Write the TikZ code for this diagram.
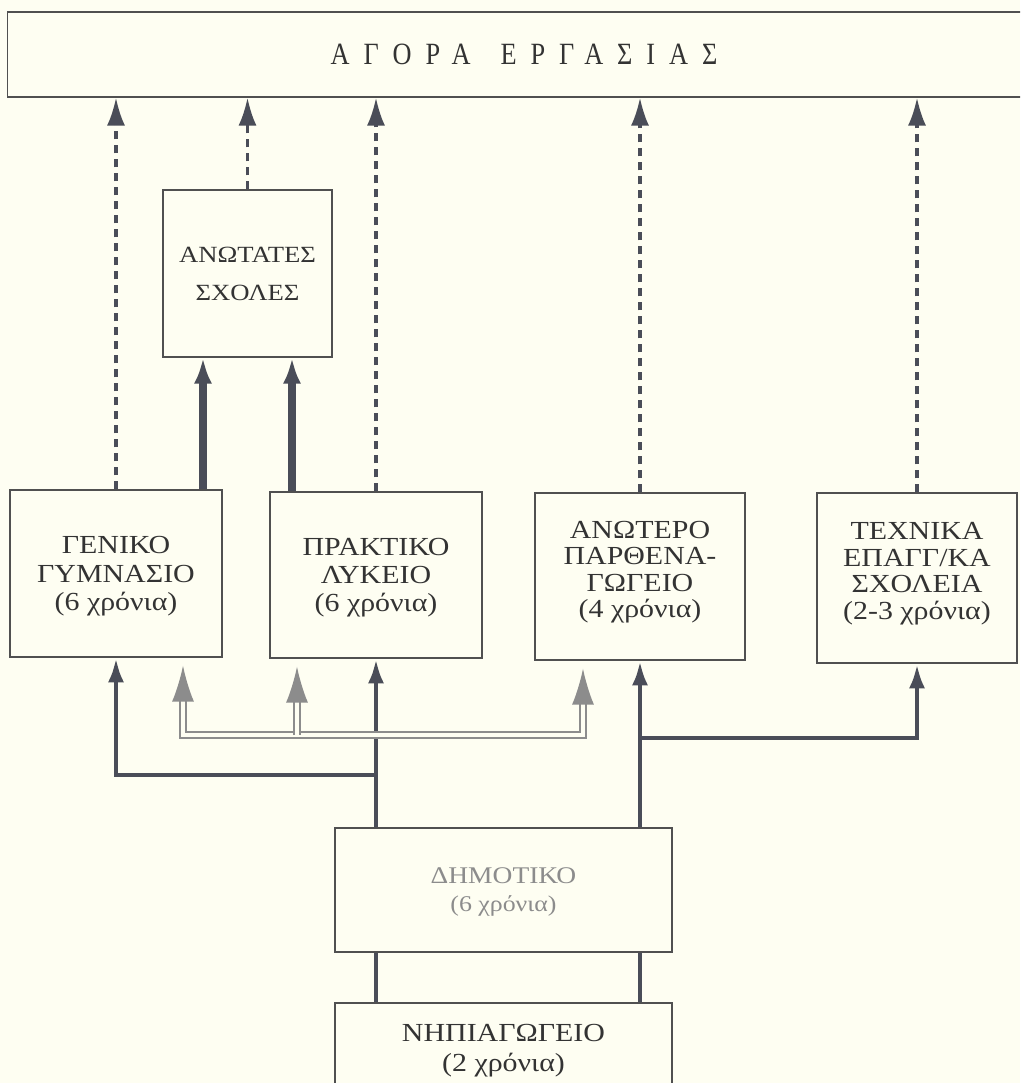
\documentclass[tikz,border=0pt]{standalone}
\usepackage{fontspec}
\setmainfont{Liberation Serif}[FakeStretch=1.15]
\newfontfamily\agorafont{Liberation Serif}[FakeStretch=0.85,LetterSpace=45]
\usetikzlibrary{arrows.meta,calc}
\definecolor{paper}{RGB}{254,254,242}
\definecolor{ink}{RGB}{74,77,88}
\definecolor{boxline}{RGB}{80,80,80}
\definecolor{shade}{RGB}{140,140,140}

\begin{document}
\begin{tikzpicture}[x=0.025cm,y=-0.025cm,
	box/.style={draw=boxline,line width=0.8pt,rectangle,align=center,inner sep=0pt,text depth=0pt,
		text=black!80,font=\fontsize{18.5}{18.8}\selectfont},
	dasharrow/.style={draw=ink,line width=2.2pt,dash pattern=on 0.22cm off 0.13cm,
		-{Latex[length=0.7cm,width=0.45cm]}},
	thickarrow/.style={draw=ink,line width=5pt,-{Latex[length=0.65cm,width=0.45cm]}},
	treearrow/.style={draw=ink,line width=3.5pt,-{Latex[length=0.62cm,width=0.4cm]}},
	link/.style={draw=ink,line width=2.2pt},
	hollowarrow/.style={draw=shade,line width=1.2pt,double=paper,double distance=3.4pt,
		shorten >=0.2cm,-{Latex[length=0.9cm,width=0.55cm]}}]
	
	\useasboundingbox (0,0) rectangle (1020,1083);
	\clip (0,0) rectangle (1020,1083);
	\fill[paper] (0,0) rectangle (1020,1083);
	
	% agora
	\node[box,minimum width=25.8cm,minimum height=2.125cm] (agora) at (524,54.5)
		{\agorafont\fontsize{22}{22}\selectfont ΑΓΟΡΑ\hspace{0.75cm}ΕΡΓΑΣΙΑΣ};
	
	% schools
	\node[box,minimum width=4.225cm,minimum height=4.175cm,font=\fontsize{16.5}{27}\selectfont] (anotates) at (247.5,273.5)
		{ΑΝΩΤΑΤΕΣ\\ΣΧΟΛΕΣ};
	\node[box,minimum width=5.3cm,minimum height=4.175cm,font=\fontsize{18.5}{20}\selectfont] (geniko) at (116,573.5)
		{ΓΕΝΙΚΟ\\ΓΥΜΝΑΣΙΟ\\(6 χρόνια)};
	\node[box,minimum width=5.3cm,minimum height=4.15cm,font=\fontsize{18.5}{20}\selectfont] (praktiko) at (376,575)
		{ΠΡΑΚΤΙΚΟ\\ΛΥΚΕΙΟ\\(6 χρόνια)};
	\node[box,minimum width=5.25cm,minimum height=4.175cm,text depth=0.35cm] (anotero) at (640,576.5)
		{ΑΝΩΤΕΡΟ\\ΠΑΡΘΕΝΑ-\\ΓΩΓΕΙΟ\\(4 χρόνια)};
	\node[box,minimum width=5cm,minimum height=4.25cm,text depth=0.35cm] (technika) at (917,578)
		{ΤΕΧΝΙΚΑ\\ΕΠΑΓΓ/ΚΑ\\ΣΧΟΛΕΙΑ\\(2-3 χρόνια)};
	
	% primary
	\node[box,minimum width=8.425cm,minimum height=3.1cm,text=black!45,font=\fontsize{17}{20}\selectfont] (dimotiko) at (503.5,890)
		{ΔΗΜΟΤΙΚΟ\\{\fontsize{16}{18}\selectfont(6 χρόνια)}};
	\node[box,minimum width=8.425cm,minimum height=2.25cm,font=\fontsize{18.5}{21}\selectfont] (nipiagogeio) at (503.5,1048)
		{ΝΗΠΙΑΓΩΓΕΙΟ\\(2 χρόνια)};
	
	% to the labour market
	\foreach \n in {geniko,anotates,praktiko,anotero,technika}
		\draw[dasharrow] (\n.north) -- (\n.north |- agora.south);
	
	% to the universities
	\draw[thickarrow] (203,0 |- geniko.north) -- (203,0 |- anotates.south);
	\draw[thickarrow] (292,0 |- praktiko.north) -- (292,0 |- anotates.south);
	
	% from primary school
	\draw[treearrow] (praktiko.south |- dimotiko.north) -- (praktiko.south);
	\draw[treearrow] (praktiko.south |- 0,775) -| (geniko.south);
	\draw[treearrow] (anotero.south |- dimotiko.north) -- (anotero.south);
	\draw[treearrow] (anotero.south |- 0,738) -| (technika.south);
	
	% crossings
	\draw[hollowarrow,shorten <=0.2cm,{Latex[length=0.9cm,width=0.55cm]}-{Latex[length=0.9cm,width=0.55cm]}]
		(183,0 |- geniko.south) |- (583,735) -- (583,0 |- anotero.south);
	\draw[hollowarrow] (297,735) -- (297,0 |- praktiko.south);
	
	% kindergarten
	\draw[link] (praktiko.south |- dimotiko.south) -- (praktiko.south |- nipiagogeio.north);
	\draw[link] (anotero.south |- dimotiko.south) -- (anotero.south |- nipiagogeio.north);
	
\end{tikzpicture}
\end{document}
